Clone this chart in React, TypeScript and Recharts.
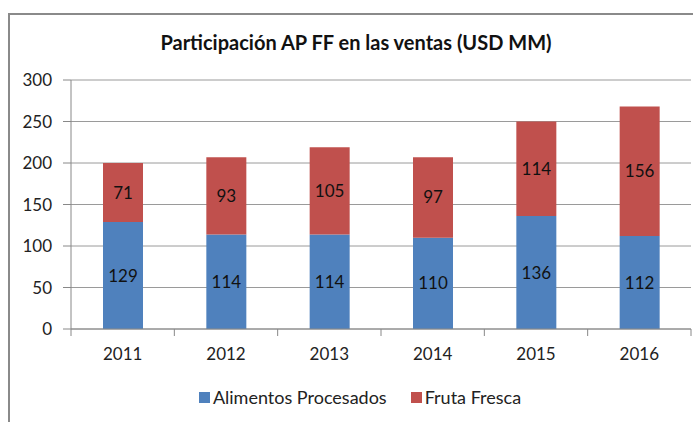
import React from 'react'
import { BarChart, Bar, XAxis, YAxis, CartesianGrid, LabelList } from 'recharts'

const years = ['2011', '2012', '2013', '2014', '2015', '2016']
const alimentosProcesados = [129, 114, 114, 110, 136, 112]
const frutaFresca = [71, 93, 105, 97, 114, 156]
const yTicks = [0, 50, 100, 150, 200, 250, 300]

const BLUE = '#4F81BD'
const RED = '#C0504D'
const FONT = 'Lato, "Noto Sans", sans-serif'

const data = years.map((year, i) => ({
    year,
    ap: alimentosProcesados[i],
    ff: frutaFresca[i],
}))

const PLOT_LEFT = 71
const PLOT_RIGHT = 691

// x tick: label plus a small mark on the left boundary of each category
const XTick = (props: any) => {
    const { x, y, payload, index } = props
    const band = (PLOT_RIGHT - PLOT_LEFT) / years.length
    const axisY = y - 8
    return (
        <g>
            <line x1={x - band / 2} x2={x - band / 2} y1={axisY} y2={axisY + 7} stroke="#888" />
            {index === years.length - 1 && (
                <line x1={x + band / 2} x2={x + band / 2} y1={axisY} y2={axisY + 7} stroke="#888" />
            )}
            <text x={x} y={y + 23} textAnchor="middle" fontSize={17} fill="#222" fontFamily={FONT}>
                {payload.value}
            </text>
        </g>
    )
}

const LegendItem = ({ color, label, gap }: { color: string; label: string; gap: number }) => (
    <div style={{ display: 'flex', alignItems: 'center', marginRight: gap }}>
        <span style={{ display: 'inline-block', width: 11, height: 11, background: color, marginRight: 3 }} />
        {label}
    </div>
)

export default function App() {
    return (
        <div style={{ position: 'absolute', left: 0, top: 0, width: 693, height: 422, background: '#fff', overflow: 'hidden' }}>
            {/* chart frame */}
            <div style={{ position: 'absolute', left: 8, top: 13, width: 700, height: 430, border: '2px solid #8a8a8a', boxSizing: 'border-box' }} />
            <div style={{ position: 'absolute', left: 0, top: 30, width: 712, textAlign: 'center', fontFamily: FONT, fontWeight: 'bold', fontSize: 20, color: '#111' }}>
                Participación AP FF en las ventas (USD MM)
            </div>
            <div style={{ position: 'absolute', left: 0, top: 0 }}>
                <BarChart width={693} height={422} data={data} margin={{ top: 80, right: 2, bottom: 63, left: 0 }} barSize={40}>
                    <CartesianGrid vertical={false} stroke="#9a9a9a" />
                    <XAxis
                        dataKey="year"
                        height={30}
                        axisLine={{ stroke: '#888' }}
                        tickLine={false}
                        tick={<XTick />}
                        interval={0}
                    />
                    <YAxis
                        width={71}
                        domain={[0, 300]}
                        ticks={yTicks}
                        axisLine={{ stroke: '#888' }}
                        tickLine={{ stroke: '#888' }}
                        tickSize={8}
                        tickMargin={11}
                        tick={{ fontSize: 17, fill: '#222', fontFamily: FONT }}
                    />
                    <Bar dataKey="ap" name="Alimentos Procesados" stackId="a" fill={BLUE} isAnimationActive={false}>
                        <LabelList dataKey="ap" position="center" fill="#111" fontSize={17} fontFamily={FONT} />
                    </Bar>
                    <Bar dataKey="ff" name="Fruta Fresca" stackId="a" fill={RED} isAnimationActive={false}>
                        <LabelList dataKey="ff" position="center" fill="#111" fontSize={17} fontFamily={FONT} />
                    </Bar>
                </BarChart>
            </div>
            <div style={{ position: 'absolute', left: 0, top: 386, width: 720, display: 'flex', justifyContent: 'center', fontFamily: FONT, fontSize: 18, color: '#222' }}>
                <LegendItem color={BLUE} label="Alimentos Procesados" gap={24} />
                <LegendItem color={RED} label="Fruta Fresca" gap={0} />
            </div>
        </div>
    )
}
